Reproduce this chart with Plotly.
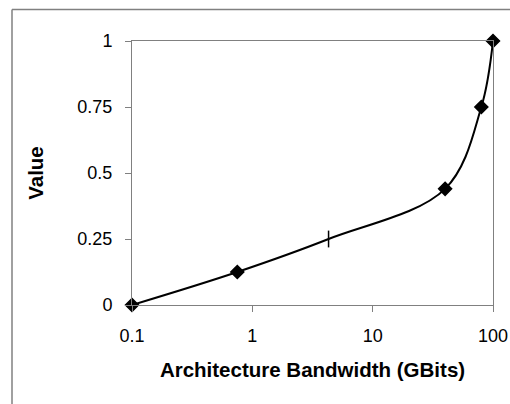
import plotly.graph_objects as go

bandwidth = [0.1, 0.75, 4.3, 40, 80, 100]
values = [0.0, 0.125, 0.25, 0.44, 0.75, 1.0]
symbols = ["diamond", "diamond", "line-ns", "diamond", "diamond", "diamond"]

x_tickvals = [0.1, 1, 10, 100]
x_ticktext = ["0.1", "1", "10", "100"]
y_tickvals = [0, 0.25, 0.5, 0.75, 1]
y_ticktext = ["0", "0.25", "0.5", "0.75", "1"]

W, H = 510, 404
L, R, T, B = 132, 17, 41, 99
pw, ph = W - L - R, H - T - B

fig = go.Figure()
fig.add_trace(go.Scatter(
    x=bandwidth, y=values, mode="lines+markers",
    line=dict(color="black", width=2, shape="spline", smoothing=1.0),
    marker=dict(symbol=symbols, size=[10, 10, 12, 10, 10, 10], color="black",
                opacity=1, line=dict(color="black", width=1.5)),
    cliponaxis=False, showlegend=False,
))

font = dict(family="Liberation Sans, Arial, sans-serif", size=18, color="black")
fig.update_layout(
    width=W, height=H,
    margin=dict(l=L, r=R, t=T, b=B, autoexpand=False),
    paper_bgcolor="white", plot_bgcolor="white",
    font=font,
    xaxis=dict(type="log", range=[-1, 2], tickvals=x_tickvals, ticktext=x_ticktext,
               automargin=False,
               showgrid=False, zeroline=False, showline=True, linecolor="#808080",
               linewidth=1, mirror=True, ticks="outside", ticklen=6, tickcolor="#808080",
               ticklabelstandoff=8,
               title=dict(text="<b>Architecture Bandwidth (GBits)</b>", standoff=18,
                          font=dict(size=20.5))),
    yaxis=dict(range=[0, 1], tickvals=y_tickvals, ticktext=y_ticktext,
               automargin=False,
               showgrid=False, zeroline=False, showline=True, linecolor="#808080",
               linewidth=1, mirror=True, ticks="outside", ticklen=6, tickcolor="#808080",
               ticklabelstandoff=9,
               title=dict(text="<b>Value</b>", standoff=28, font=dict(size=20.5))),
)

# outer chart frame (partially cropped in the reference)
fx = (12 - L) / pw
fy = (H - B - 9.5) / ph
fig.add_shape(type="line", xref="paper", yref="paper", x0=fx, y0=fy, x1=1.2, y1=fy,
              line=dict(color="#808080", width=1.5))
fig.add_shape(type="line", xref="paper", yref="paper", x0=fx, y0=fy, x1=fx, y1=-0.5,
              line=dict(color="#808080", width=1.5))

fig.write_html("out.html")
